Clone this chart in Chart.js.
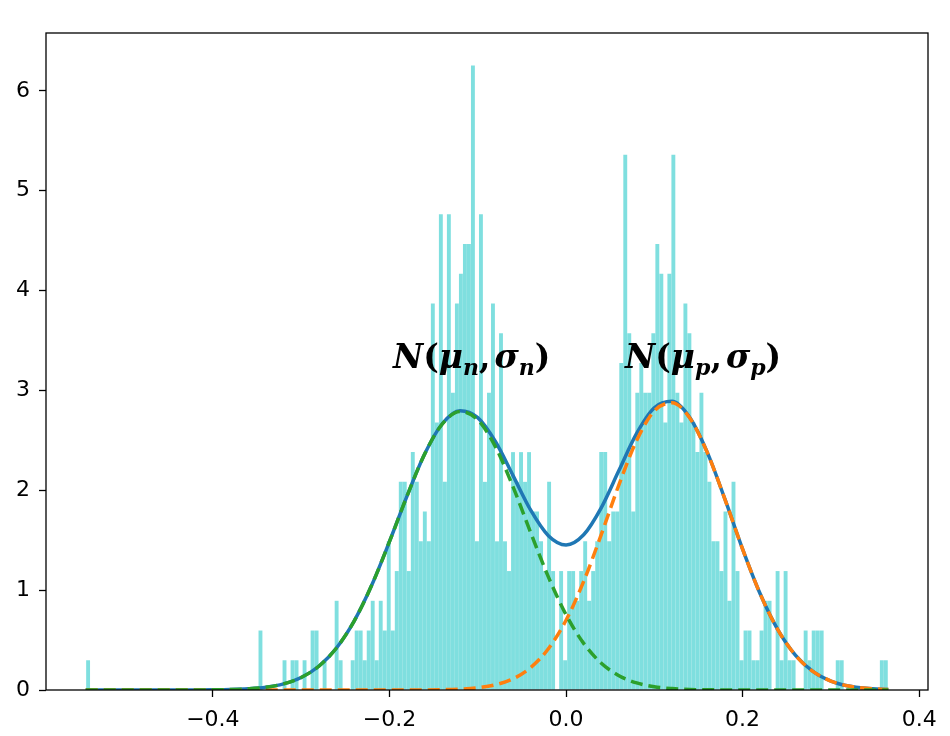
<!DOCTYPE html>
<html>
<head>
<meta charset="utf-8">
<script src="https://cdn.jsdelivr.net/npm/chart.js@4.4.1/dist/chart.umd.min.js"></script>
<style>
    html, body { margin: 0; padding: 0; background: #fff; }
</style>
</head>
<body>
<canvas id="mixChart" width="950" height="736"></canvas>
<script>
// histogram: 200 equal bins between sample min and max
const histStart = -0.5436;
const histEnd = 0.3645;
const countDensity = 0.2978; // density of one sample in one bin
const binCounts = [
    1, 0, 0, 0, 0, 0, 0, 0, 0, 0,   0, 0, 0, 0, 0, 0, 0, 0, 0, 0,
    0, 0, 0, 0, 0, 0, 0, 0, 0, 0,   0, 0, 0, 0, 0, 0, 0, 0, 0, 0,
    0, 0, 0, 2, 0, 0, 0, 0, 0, 1,   0, 1, 1, 0, 1, 0, 2, 2, 0, 1,
    0, 0, 3, 1, 0, 0, 1, 2, 2, 1,   2, 3, 1, 3, 2, 5, 2, 4, 7, 7,
    4, 8, 7, 5, 6, 5, 13, 9, 16, 7, 16, 10, 13, 14, 15, 15, 21, 5, 16, 7,
    10, 13, 5, 12, 5, 4, 8, 7, 8, 7, 8, 6, 6, 5, 4, 7, 4, 0, 4, 1,
    4, 4, 3, 4, 5, 3, 4, 5, 8, 8,   5, 6, 6, 11, 18, 12, 6, 10, 11, 10,
    10, 12, 15, 14, 9, 14, 18, 10, 9, 13, 12, 9, 8, 10, 8, 7, 5, 5, 4, 6,
    3, 7, 4, 1, 2, 2, 1, 1, 2, 3,   3, 0, 4, 1, 4, 1, 1, 0, 0, 2,
    1, 2, 2, 2, 0, 0, 0, 1, 1, 0,   0, 0, 0, 0, 0, 0, 0, 0, 1, 1
];

// fitted curves
const curveX = [
    -0.544, -0.50, -0.46, -0.42, -0.40, -0.38, -0.36, -0.34, -0.32, -0.30,
    -0.28, -0.26, -0.24, -0.22, -0.20, -0.18, -0.16, -0.14, -0.12, -0.10,
    -0.08, -0.06, -0.04, -0.02, 0.00, 0.02, 0.04, 0.06, 0.08, 0.10,
    0.12, 0.14, 0.16, 0.18, 0.20, 0.22, 0.24, 0.26, 0.28, 0.30,
    0.32, 0.34, 0.365
];
const mixtureY = [
    0, 0, 0, 0.0005, 0.0016, 0.0044, 0.0115, 0.027, 0.061, 0.125,
    0.238, 0.421, 0.690, 1.051, 1.485, 1.945, 2.366, 2.669, 2.798, 2.728,
    2.489, 2.147, 1.801, 1.546, 1.453, 1.555, 1.827, 2.200, 2.570, 2.827,
    2.891, 2.731, 2.380, 1.911, 1.411, 0.961, 0.602, 0.347, 0.184, 0.090,
    0.040, 0.017, 0.005
];
const negativeY = [
    0, 0, 0, 0.0005, 0.0016, 0.0044, 0.0115, 0.027, 0.061, 0.125,
    0.238, 0.421, 0.690, 1.051, 1.485, 1.945, 2.365, 2.666, 2.789, 2.706,
    2.437, 2.035, 1.576, 1.133, 0.755, 0.467, 0.268, 0.143, 0.071, 0.032,
    0.014, 0.005, 0.002, 0.001, 0, 0, 0, 0, 0, 0,
    0, 0, 0
];
const positiveY = [
    0, 0, 0, 0, 0, 0, 0, 0, 0, 0,
    0, 0, 0, 0, 0, 0.0003, 0.001, 0.003, 0.009, 0.022,
    0.052, 0.112, 0.225, 0.413, 0.698, 1.088, 1.559, 2.057, 2.499, 2.795,
    2.877, 2.726, 2.378, 1.910, 1.411, 0.961, 0.602, 0.347, 0.184, 0.090,
    0.040, 0.017, 0.005
];

const xTickValues = [-0.4, -0.2, 0.0, 0.2, 0.4];
const yTickValues = [0, 1, 2, 3, 4, 5, 6];

const binWidth = (histEnd - histStart) / binCounts.length;
const histPoints = binCounts.map((c, i) => ({
    x: histStart + (i + 0.5) * binWidth,
    y: c * countDensity
}));
const toPoints = ys => curveX.map((x, i) => ({ x: x, y: ys[i] }));

// label anchors in data units (left end, baseline)
const curveLabels = [
    { x: -0.196, y: 3.22, sub: "n" },
    { x: 0.0669, y: 3.22, sub: "p" }
];

const frameAndLabels = {
    id: "frameAndLabels",
    afterDatasetsDraw(chart) {
        const { ctx, chartArea: a, scales } = chart;
        ctx.save();
        ctx.strokeStyle = "#000";
        ctx.lineWidth = 1.3;
        ctx.strokeRect(a.left, a.top, a.right - a.left, a.bottom - a.top);

        const big = 'italic bold 33px "DejaVu Serif"';
        const plain = 'bold 33px "DejaVu Serif"';
        const small = 'italic bold 22px "DejaVu Serif"';
        ctx.fillStyle = "#000";
        ctx.textBaseline = "alphabetic";
        curveLabels.forEach(lab => {
            const runs = [
                { t: "N", f: big },
                { t: "(", f: plain },
                { t: "\u03bc", f: big },
                { t: lab.sub, f: small, dy: 7 },
                { t: ",", f: plain, kern: 4 },
                { t: "\u03c3", f: big },
                { t: lab.sub, f: small, dy: 7 },
                { t: ")", f: plain }
            ];
            let cx = scales.x.getPixelForValue(lab.x);
            const by = scales.y.getPixelForValue(lab.y);
            runs.forEach(r => {
                ctx.font = r.f;
                ctx.fillText(r.t, cx, by + (r.dy || 0));
                cx += ctx.measureText(r.t).width + (r.kern || 0);
            });
        });
        ctx.restore();
    }
};

Chart.defaults.font.family = '"DejaVu Sans"';
Chart.defaults.color = "#000";

new Chart(document.getElementById("mixChart"), {
    type: "bar",
    data: {
        datasets: [
            {
                type: "line",
                data: toPoints(negativeY),
                borderColor: "#2ca02c",
                borderWidth: 3.5,
                borderDash: [12, 6],
                pointRadius: 0,
                cubicInterpolationMode: "monotone",
                order: 1
            },
            {
                type: "line",
                data: toPoints(positiveY),
                borderColor: "#ff7f0e",
                borderWidth: 3.5,
                borderDash: [12, 6],
                pointRadius: 0,
                cubicInterpolationMode: "monotone",
                order: 2
            },
            {
                type: "line",
                data: toPoints(mixtureY),
                borderColor: "#1f77b4",
                borderWidth: 3.5,
                pointRadius: 0,
                cubicInterpolationMode: "monotone",
                order: 3
            },
            {
                type: "bar",
                data: histPoints,
                backgroundColor: "rgba(0, 191, 191, 0.5)",
                borderWidth: 0,
                barPercentage: 0.97,
                categoryPercentage: 1,
                order: 10
            }
        ]
    },
    options: {
        responsive: false,
        animation: false,
        layout: { padding: { top: 33, right: 22, left: 0, bottom: 0 } },
        plugins: {
            legend: { display: false },
            tooltip: { enabled: false }
        },
        scales: {
            x: {
                type: "linear",
                offset: false,
                min: -0.589,
                max: 0.41,
                afterBuildTicks: scale => { scale.ticks = xTickValues.map(v => ({ value: v })); },
                afterFit: scale => { scale.height = 46; },
                border: { display: false },
                grid: { drawOnChartArea: false, offset: false, tickLength: 7, tickWidth: 1.3, color: "#000" },
                ticks: {
                    font: { size: 22 },
                    padding: 10,
                    maxRotation: 0,
                    callback: v => (v < 0 ? "\u2212" + Math.abs(v).toFixed(1) : v.toFixed(1))
                }
            },
            y: {
                min: 0,
                max: 6.58,
                afterBuildTicks: scale => { scale.ticks = yTickValues.map(v => ({ value: v })); },
                afterFit: scale => { scale.width = 46; },
                border: { display: false },
                grid: { drawOnChartArea: false, tickLength: 7, tickWidth: 1.3, color: "#000" },
                ticks: {
                    font: { size: 22 },
                    padding: 9,
                    callback: v => String(v)
                }
            }
        }
    },
    plugins: [frameAndLabels]
});
</script>
</body>
</html>
